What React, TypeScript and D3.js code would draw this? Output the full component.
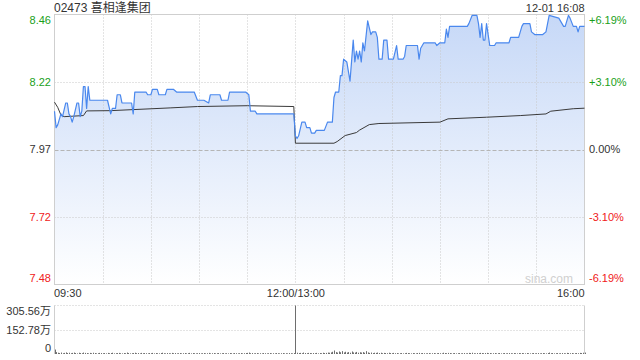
import React from "react";
import * as d3 from "d3";

const title = "02473 喜相逢集团";
const stamp = "12-01 16:08";
const prevClose = 7.97;

const tickPcts = [6.19, 3.1, 0, -3.1, -6.19];
const tickPrices = ["8.46", "8.22", "7.97", "7.72", "7.48"];
const tickPctLabels = ["+6.19%", "+3.10%", "0.00%", "-3.10%", "-6.19%"];
const timeLabels = ["09:30", "12:00/13:00", "16:00"];
const timeLabelMinutes = [0, 150, 330];
const volLabels = ["305.56万", "152.78万", "0"];
const volTicks = [305.56, 152.78, 0];

// minutes since 09:30 (lunch removed), price
const priceTimes = [
  0, 1, 2, 4, 5, 7, 8, 9, 10, 11, 12, 14, 15, 16, 17, 18, 19, 20, 21, 22, 33, 35, 36, 38, 39, 41, 42, 48, 49, 50,
  57, 58, 60, 61, 64, 65, 69, 70, 74, 76, 87, 89, 93, 96, 97, 103, 104, 108, 109, 119, 121, 122, 125, 126, 149,
  150, 151, 152, 154, 156, 157, 159, 160, 162, 163, 168, 170, 173, 174, 175, 177, 178, 179, 180, 182, 184, 186,
  187, 188, 189, 190, 191, 192, 193, 195, 197, 198, 200, 201, 202, 204, 205, 207, 208, 211, 213, 214, 217, 218,
  219, 226, 227, 228, 230, 237, 238, 240, 243, 244, 245, 246, 257, 258, 260, 263, 264, 265, 266, 267, 268, 269,
  271, 274, 275, 283, 284, 289, 291, 292, 296, 297, 299, 304, 306, 308, 314, 317, 318, 320, 321, 323, 325, 326,
  327, 330,
];
const priceValues = [
  8.11, 8.05, 8.06, 8.1, 8.09, 8.14, 8.14, 8.1, 8.09, 8.07, 8.09, 8.14, 8.14, 8.09, 8.11, 8.2, 8.2, 8.12, 8.2, 8.15,
  8.15, 8.1, 8.12, 8.12, 8.17, 8.17, 8.14, 8.14, 8.1, 8.18, 8.18, 8.17, 8.17, 8.19, 8.19, 8.17, 8.17, 8.19, 8.19,
  8.18, 8.18, 8.15, 8.15, 8.14, 8.17, 8.17, 8.15, 8.15, 8.18, 8.18, 8.17, 8.11, 8.11, 8.1, 8.1,
  8.02, 8.01, 8.02, 8.07, 8.07, 8.05, 8.05, 8.03, 8.03, 8.04, 8.04, 8.07, 8.07, 8.16, 8.18, 8.18, 8.24, 8.24, 8.3,
  8.29, 8.22, 8.37, 8.29, 8.33, 8.3, 8.33, 8.29, 8.36, 8.33, 8.44, 8.39, 8.4, 8.4, 8.38, 8.3, 8.3, 8.37, 8.37, 8.3,
  8.3, 8.35, 8.3, 8.3, 8.31, 8.35, 8.35, 8.3, 8.34, 8.36, 8.36, 8.35, 8.36, 8.36, 8.41, 8.38, 8.42, 8.42, 8.43,
  8.46, 8.46, 8.43, 8.38, 8.43, 8.37, 8.37, 8.43, 8.35, 8.35, 8.36, 8.36, 8.38, 8.38, 8.42, 8.43, 8.43, 8.4, 8.39,
  8.39, 8.4, 8.46, 8.45, 8.42, 8.42, 8.46, 8.45, 8.42, 8.42, 8.4, 8.42, 8.42,
];

const avgTimes = [
  0, 2, 4, 6, 18, 20, 35, 72, 89, 120, 149, 150, 174, 176, 181, 188, 190, 196, 202, 240, 245, 269, 290, 306, 309,
  323, 330,
];
const avgValues = [
  8.143, 8.124, 8.096, 8.09, 8.094, 8.111, 8.112, 8.122, 8.127, 8.13, 8.127, 7.993, 7.993, 7.999, 8.021, 8.032,
  8.041, 8.061, 8.065, 8.07, 8.082, 8.088, 8.094, 8.1, 8.11, 8.119, 8.121,
];

// volume per minute (万), minutes 0..330
const volumes = [
  28, 12, 8, 6, 9, 5, 7, 10, 6, 8,
  5, 7, 9, 6, 4, 8, 6, 5, 9, 7,
  6, 4, 7, 5, 8, 6, 4, 5, 7, 6,
  5, 6, 4, 7, 5, 6, 8, 4, 5, 6,
  7, 5, 4, 6, 5, 9, 6, 4, 5, 6,
  8, 5, 6, 4, 7, 5, 6, 5, 4, 6,
  5, 7, 4, 6, 5, 4, 6, 8, 5, 4,
  6, 5, 4, 7, 5, 6, 4, 5, 6, 4,
  5, 6, 4, 5, 7, 4, 6, 5, 4, 5,
  6, 4, 5, 6, 4, 5, 7, 4, 5, 6,
  4, 5, 6, 4, 5, 6, 4, 5, 4, 6,
  5, 4, 6, 5, 4, 5, 6, 4, 5, 6,
  7, 9, 5, 6, 4, 5, 6, 4, 5, 4,
  6, 5, 4, 5, 6, 4, 5, 4, 6, 5,
  4, 5, 6, 4, 5, 4, 6, 5, 4, 6,
  305.56,
  8, 6, 7, 5, 9, 6, 5, 7, 6, 5,
  6, 5, 7, 4, 6, 5, 8, 6, 7, 9,
  8, 10, 14, 22, 12, 9, 16, 11, 18, 10,
  14, 9, 12, 8, 16, 10, 9, 13, 8, 11,
  9, 12, 8, 18, 10, 7, 9, 6, 8, 7,
  9, 6, 8, 5, 7, 6, 5, 8, 6, 5,
  7, 5, 6, 4, 5, 6, 4, 5, 7, 6,
  5, 4, 6, 5, 4, 6, 7, 5, 6, 5,
  4, 5, 6, 4, 5, 6, 4, 5, 6, 5,
  4, 8, 6, 5, 7, 6, 4, 5, 6, 4,
  5, 6, 4, 5, 6, 4, 5, 7, 6, 8,
  5, 4, 6, 5, 7, 6, 5, 6, 7, 5,
  6, 4, 5, 6, 4, 5, 6, 4, 5, 6,
  4, 5, 6, 5, 4, 6, 5, 4, 6, 5,
  6, 5, 4, 6, 5, 4, 5, 6, 4, 5,
  6, 4, 5, 6, 5, 4, 6, 9, 5, 6,
  4, 5, 6, 4, 5, 6, 5, 4, 7, 6,
  5, 6, 4, 5, 6, 5, 7, 6, 8, 9,
];

const FONT = "'Liberation Sans', Arial, 'Noto Sans CJK SC', sans-serif";
const GREEN = "#1a9f1a";
const RED = "#f02020";

export default function App() {
  const left = 54.5;
  const right = 584.5;
  const top = 14.5;
  const bottom = 284.5;
  const vTop = 305.5;
  const vBottom = 354;

  const x = d3.scaleLinear().domain([0, 330]).range([left, right]);
  const y = d3
    .scaleLinear()
    .domain([prevClose * (1 - 0.0619), prevClose * (1 + 0.0619)])
    .range([bottom, top]);
  const yv = d3.scaleLinear().domain([0, 305.56]).range([vBottom, vTop]);

  const pts = priceTimes.map((t, i) => [t, priceValues[i]] as [number, number]);
  const avgPts = avgTimes.map((t, i) => [t, avgValues[i]] as [number, number]);

  const line = d3
    .line<[number, number]>()
    .x((d) => x(d[0]))
    .y((d) => y(d[1]));
  const area = d3
    .area<[number, number]>()
    .x((d) => x(d[0]))
    .y0(bottom)
    .y1((d) => y(d[1]));

  const vGrid = d3.range(1, 11).map((k) => left + ((right - left) * k) / 11);
  const colorFor = (i: number) => (i < 2 ? GREEN : i === 2 ? "#333" : RED);

  return (
    <svg
      width={640}
      height={360}
      style={{ position: "absolute", left: 0, top: 0, background: "#fff" }}
      fontFamily={FONT}
    >
      <defs>
        <linearGradient id="fillGrad" gradientUnits="userSpaceOnUse" x1={0} y1={top} x2={0} y2={bottom}>
          <stop offset="0%" stopColor="#c6d8f7" />
          <stop offset="100%" stopColor="#ffffff" />
        </linearGradient>
      </defs>

      <text x={54} y={12} fontSize={12} fill="#333">
        {title}
      </text>
      <text x={584.5} y={11.5} fontSize={11} fill="#333" textAnchor="end">
        {stamp}
      </text>

      <path d={area(pts) || ""} fill="url(#fillGrad)" />

      {/* grid */}
      {vGrid.map((gx, i) => (
        <line key={"vg" + i} x1={Math.round(gx) + 0.5} x2={Math.round(gx) + 0.5} y1={top} y2={bottom}
          stroke="#c8c8c8" strokeDasharray="1,2" />
      ))}
      {tickPcts.map((p, i) => {
        if (i === 0 || i === 4) return null;
        const gy = Math.round(y(prevClose * (1 + p / 100))) + 0.5;
        return (
          <line key={"hg" + i} x1={left} x2={right} y1={gy} y2={gy}
            stroke={p === 0 ? "#b5b5b5" : "#c8c8c8"} strokeDasharray={p === 0 ? "4,2" : "1,2"} />
        );
      })}
      <rect x={left} y={top} width={right - left} height={bottom - top} fill="none" stroke="#cfcfcf" />

      <path d={line(avgPts) || ""} fill="none" stroke="#3a3a3a" strokeWidth={1} />
      <path d={line(pts) || ""} fill="none" stroke="#4a88ee" strokeWidth={1.2} strokeLinejoin="round" />

      {/* left/right axis labels */}
      {tickPcts.map((p, i) => {
        const ty = y(prevClose * (1 + p / 100)) + (i === 0 ? 6 : i === 4 ? -6 : 0);
        return (
          <g key={"tl" + i}>
            <text x={51} y={ty} dy="0.35em" fontSize={11} textAnchor="end" fill={colorFor(i)}>
              {tickPrices[i]}
            </text>
            <text x={589} y={ty} dy="0.35em" fontSize={11} textAnchor="start" fill={colorFor(i)}>
              {tickPctLabels[i]}
            </text>
          </g>
        );
      })}

      <text x={573} y={279} dy="0.35em" fontSize={12} fill="#d0d0d0" textAnchor="end">
        sina.com
      </text>

      {/* time labels */}
      {timeLabels.map((s, i) => (
        <text key={"xl" + i} x={i === 0 ? 54 : i === 1 ? x(timeLabelMinutes[i]) + 0.5 : x(timeLabelMinutes[i])}
          y={297} fontSize={11} fill="#333" textAnchor={i === 0 ? "start" : i === 1 ? "middle" : "end"}>
          {s}
        </text>
      ))}

      {/* volume panel */}
      <line x1={left} x2={right} y1={vTop} y2={vTop} stroke="#c8c8c8" strokeDasharray="1,2" />
      <line x1={left} x2={right} y1={Math.round(yv(152.78)) + 0.5} y2={Math.round(yv(152.78)) + 0.5}
        stroke="#c8c8c8" strokeDasharray="1,2" />
      <line x1={left} x2={left} y1={vTop} y2={vBottom} stroke="#cfcfcf" />
      <line x1={right} x2={right} y1={vTop} y2={vBottom} stroke="#cfcfcf" />
      {volumes.map((v, i) => {
        const bx = Math.round(x(i));
        const by = yv(v);
        return <rect key={"vb" + i} x={bx} y={by} width={1} height={Math.max(0, vBottom - by)} fill="#6e6e6e" />;
      })}
      {volTicks.map((v, i) => (
        <text key={"vl" + i} x={51} y={yv(v) + (i === 0 ? 6 : i === 2 ? -6 : 0)} dy="0.35em" fontSize={11}
          fill="#333" textAnchor="end">
          {volLabels[i]}
        </text>
      ))}
    </svg>
  );
}
